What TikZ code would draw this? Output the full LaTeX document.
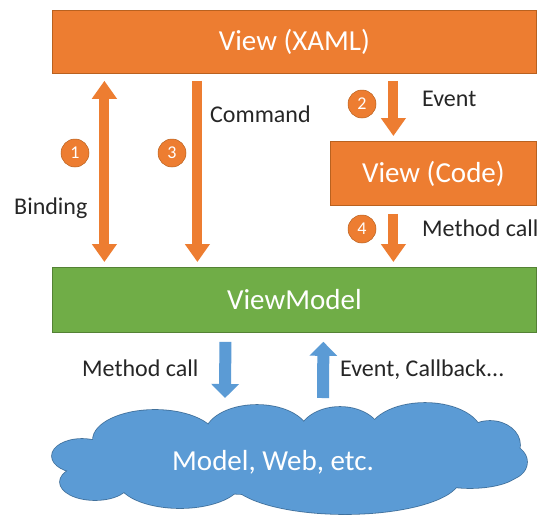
\documentclass[tikz,border=0pt]{standalone}
\usepackage{fontspec}
\setmainfont{Carlito}
\usetikzlibrary{arrows.meta}
\definecolor{orangeF}{HTML}{ED7D31}
\definecolor{orangeD}{HTML}{B9611F}
\definecolor{greenF}{HTML}{70AD47}
\definecolor{greenD}{HTML}{548235}
\definecolor{blueF}{HTML}{5B9BD5}
\definecolor{blueD}{HTML}{41719C}
\definecolor{txt}{HTML}{262626}
\begin{document}
\begin{tikzpicture}[x=1pt,y=-1pt,
  bigtext/.style={text=white, font=\fontsize{29}{34}\selectfont},
  obox/.style={bigtext, draw=orangeD, fill=orangeF, line width=0.8pt, inner sep=0, anchor=north west},
  gbox/.style={bigtext, draw=greenD, fill=greenF, line width=0.8pt, inner sep=0, anchor=north west},
  oarrow/.style={draw=orangeF, line width=10pt, -{Triangle[width=24pt,length=18pt]}},
  obiarrow/.style={draw=orangeF, line width=10pt, {Triangle[width=24pt,length=18pt]}-{Triangle[width=24pt,length=18pt]}},
  barrow/.style={draw=blueF, line width=12pt, -{Triangle[width=27pt,length=14pt]}},
  num/.style={circle, fill=orangeF, draw=orangeD, line width=0.5pt, minimum size=28pt, inner sep=0, text=white, font=\fontsize{18}{20}\selectfont},
  lbl/.style={font=\fontsize{24}{28}\selectfont, text=txt, anchor=base west, inner sep=0},
  puffline/.style={draw=blueD, line width=1.6pt, fill=blueF},
  pufffill/.style={fill=blueF}]
\useasboundingbox (0,0) rectangle (538,515);
\fill[white] (0,0) rectangle (538,515);

\node[obox, minimum width=484pt, minimum height=63pt] (xaml) at (52,10) {View (XAML)};
\node[obox, minimum width=206pt, minimum height=64pt] (code) at (330,141) {View (Code)};
\node[gbox, minimum width=484pt, minimum height=65pt] (vm) at (52,267) {ViewModel};

% cloud drawn as a union of puffs
\def\cloudpuffs{82/456/30/17, 95/482/35/18, 155/440/62/30, 257/435/52/30,
  340/437/42/30, 425/435/57/32, 490/445/30/24, 505/462/22/18, 470/470/50/18,
  345/478/115/36, 180/480/62/28, 290/460/200/35}
\foreach \cx/\cy/\rx/\ry in \cloudpuffs
  \path[puffline] (\cx,\cy) ellipse [x radius=\rx pt, y radius=\ry pt];
\foreach \cx/\cy/\rx/\ry in \cloudpuffs
  \path[pufffill] (\cx,\cy) ellipse [x radius=\rx pt, y radius=\ry pt];
\node[bigtext, inner sep=0, anchor=base] (cloud) at (273,470) {Model, Web, etc.};

% orange connectors
\draw[obiarrow] ([xshift=-190pt,yshift=-7pt]xaml.south) -- ([xshift=-190pt,yshift=5pt]vm.north);
\draw[oarrow] ([xshift=-97pt,yshift=-7pt]xaml.south) -- ([xshift=-97pt,yshift=5pt]vm.north);
\draw[oarrow] ([xshift=-40pt,yshift=-7pt]code.north |- xaml.south) -- ([xshift=-40pt,yshift=5pt]code.north);
\draw[oarrow] ([xshift=-40pt,yshift=-8pt]code.south) -- ([xshift=-40pt,yshift=5pt]code.south |- vm.north);

% blue connectors
\coordinate (mdown) at (225,398);
\coordinate (eup) at (323,398);
\draw[barrow] ([xshift=-69pt,yshift=-9pt]vm.south) -- (mdown);
\draw[barrow] (eup) -- ([xshift=29pt,yshift=-9pt]vm.south);

% numbers
\node[num] (n1) at (75,153) {1};
\node[num] (n3) at (172,153) {3};
\node[num] (n2) at (362,104) {2};
\node[num] (n4) at (362,229) {4};

% labels
\node[lbl] (lbind) at (14,214.5) {Binding};
\node[lbl] (lcmd) at (210,122) {Command};
\node[lbl] (levt) at (422,106) {Event};
\node[lbl] (lmc1) at (422,236) {Method call};
\node[lbl] (lmc2) at (82,376) {Method call};
\node[lbl] (lecb) at (340,376) {Event, Callback...};
\end{tikzpicture}
\end{document}
